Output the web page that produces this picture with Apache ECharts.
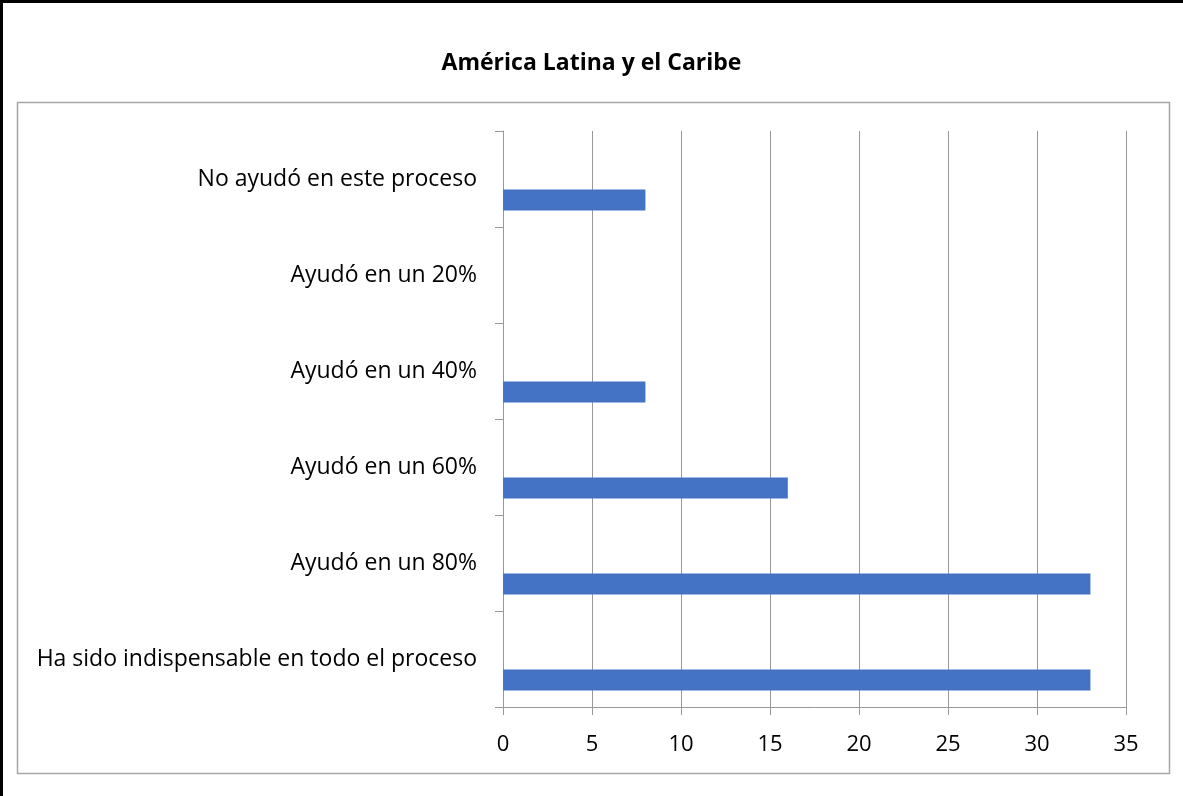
<!DOCTYPE html>
<html>
<head>
<meta charset="utf-8">
<script src="https://cdn.jsdelivr.net/npm/echarts@6/dist/echarts.min.js"></script>
<style>
html,body{margin:0;padding:0;background:#fff;}
#chart{width:1183px;height:796px;}
</style>
</head>
<body>
<div id="chart"></div>
<script>
const title = "América Latina y el Caribe";
const categories = [
  "No ayudó en este proceso",
  "Ayudó en un 20%",
  "Ayudó en un 40%",
  "Ayudó en un 60%",
  "Ayudó en un 80%",
  "Ha sido indispensable en todo el proceso"
];
const values = [8, 0, 8, 16, 33, 33];
const emptySeries = [null, null, null, null, null, null];
const xTicks = { min: 0, max: 35, interval: 5 };

const font = "'Open Sans', 'Noto Sans', sans-serif";
const chart = echarts.init(document.getElementById('chart'), null, { renderer: 'canvas' });
chart.setOption({
  animation: false,
  backgroundColor: '#ffffff',
  title: {
    text: title,
    left: 'center',
    top: 47,
    textStyle: { fontFamily: font, fontWeight: 'bold', fontSize: 23, color: '#000' }
  },
  graphic: [
    { type: 'rect', shape: { x: 17.5, y: 102.5, width: 1152, height: 671 }, style: { fill: null, stroke: '#a6a6a6', lineWidth: 1.5 }, silent: true },
    { type: 'line', shape: { x1: 1.5, y1: 0, x2: 1.5, y2: 796 }, style: { stroke: '#000', lineWidth: 3 }, silent: true },
    { type: 'line', shape: { x1: 0, y1: 1.5, x2: 1183, y2: 1.5 }, style: { stroke: '#000', lineWidth: 3 }, silent: true }
  ],
  grid: { left: 503, right: 57, top: 131, bottom: 89, containLabel: false },
  xAxis: {
    type: 'value',
    min: xTicks.min, max: xTicks.max, interval: xTicks.interval,
    axisLine: { show: true, lineStyle: { color: '#999', width: 1 } },
    axisTick: { show: true, length: 8, lineStyle: { color: '#999' } },
    splitLine: { show: true, lineStyle: { color: '#999', width: 1 } },
    axisLabel: { fontFamily: font, fontSize: 22, color: '#000', margin: 27 }
  },
  yAxis: {
    type: 'category',
    inverse: true,
    data: categories,
    axisLine: { show: true, lineStyle: { color: '#999', width: 1 } },
    axisTick: { show: true, length: 8, lineStyle: { color: '#999' } },
    splitLine: { show: false },
    axisLabel: { fontFamily: font, fontSize: 23, color: '#000', margin: 26 }
  },
  series: [
    { type: 'bar', data: emptySeries, barWidth: 21, barGap: '0%', silent: true },
    { type: 'bar', data: emptySeries, barWidth: 21, barGap: '0%', silent: true },
    { type: 'bar', data: values, barWidth: 21, barGap: '0%', itemStyle: { color: '#4472C4' } }
  ]
});
</script>
</body>
</html>
